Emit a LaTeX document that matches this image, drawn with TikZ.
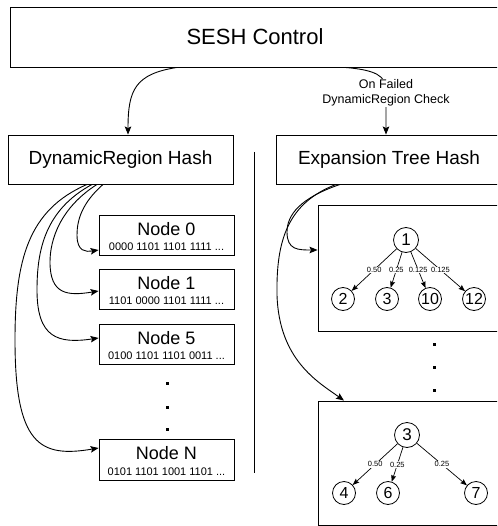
\documentclass[tikz,border=0pt]{standalone}
\usepackage{fontspec}
\setmainfont{Liberation Sans}
\usetikzlibrary{arrows.meta,calc}
\tikzset{
  box/.style={draw=black,line width=0.9pt,rectangle,inner sep=0pt},
  conn/.style={line width=0.9pt,-{Stealth[length=8pt,width=6.5pt,inset=1.5pt]}},
  tarrow/.style={line width=0.7pt,-{Stealth[length=6.5pt,width=5pt,inset=1pt]}},
  circ/.style={draw=black,line width=0.8pt,circle,minimum size=23pt,inner sep=0pt,font=\fontsize{16}{16}\selectfont},
  rootc/.style={circ,minimum size=25pt,font=\fontsize{17}{17}\selectfont},
  elab/.style={fill=white,inner sep=0.6pt,font=\fontsize{7.5}{7.5}\selectfont},
  ntitle/.style={inner sep=0pt,font=\fontsize{18}{18}\selectfont},
  nbits/.style={inner sep=0pt,font=\fontsize{11}{11}\selectfont},
  dotsq/.style={fill=black,rectangle,minimum size=3pt,inner sep=0pt}
}
\begin{document}
\begin{tikzpicture}[x=1pt,y=-1pt]
\useasboundingbox (0,0) rectangle (497,526);
\clip (0,0) rectangle (497,526);
% top box
\node[box,minimum width=490pt,minimum height=60pt,font=\fontsize{22}{22}\selectfont] (sesh) at (255,37) {SESH Control};
% hash boxes
\node[box,minimum width=225pt,minimum height=49pt,font=\fontsize{19}{19}\selectfont] (drh) at (120.5,159.5) {DynamicRegion Hash};
\node[box,minimum width=226pt,minimum height=49pt,font=\fontsize{19}{19}\selectfont] (eth) at (389,159.5) {Expansion Tree Hash};
% separator
\draw[line width=0.9pt] (254,152) -- (254,473);
% node boxes
\node[box,minimum width=135pt,minimum height=40pt] (n0) at (166.5,235) {};
\node[ntitle] (n0t) at (166.5,229) {Node 0};
\node[nbits] (n0b) at (166.5,247) {0000 1101 1101 1111 ...};
\node[box,minimum width=135pt,minimum height=40pt] (n1) at (166.5,289) {};
\node[ntitle] (n1t) at (166.5,283) {Node 1};
\node[nbits] (n1b) at (166.5,301) {1101 0000 1101 1111 ...};
\node[box,minimum width=135pt,minimum height=40pt] (n5) at (166.5,344) {};
\node[ntitle] (n5t) at (166.5,338) {Node 5};
\node[nbits] (n5b) at (166.5,356) {0100 1101 1101 0011 ...};
\node[box,minimum width=135pt,minimum height=41pt] (nN) at (166.5,459.5) {};
\node[ntitle] (nNt) at (166.5,453) {Node N};
\node[nbits] (nNb) at (166.5,471.5) {0101 1101 1001 1101 ...};
% left dots
\node[dotsq] (ld1) at (167,383) {};
\node[dotsq] (ld2) at (167,407) {};
\node[dotsq] (ld3) at (167,429) {};
% tree boxes
\node[box,minimum width=187pt,minimum height=126pt] (tb1) at (411.5,268) {};
\node[box,minimum width=187pt,minimum height=124pt] (tb2) at (411.5,463) {};
% right dots
\node[dotsq] (rd1) at (434,344) {};
\node[dotsq] (rd2) at (434,367) {};
\node[dotsq] (rd3) at (434,390) {};
% tree 1
\node[rootc] (t1) at (406,240) {1};
\node[circ] (t2) at (343,299) {2};
\node[circ] (t3) at (387,299) {3};
\node[circ] (t10) at (430,299) {10};
\node[circ] (t12) at (474,299) {12};
\draw[tarrow] (t1) -- node[elab] {0.50} (t2);
\draw[tarrow] (t1) -- node[elab] {0.25} (t3);
\draw[tarrow] (t1) -- node[elab] {0.125} (t10);
\draw[tarrow] (t1) -- node[elab] {0.125} (t12);
% tree 2
\node[rootc] (u3) at (407,435) {3};
\node[circ] (u4) at (344,493) {4};
\node[circ] (u6) at (388,493) {6};
\node[circ] (u7) at (476,493) {7};
\draw[tarrow] (u3) -- node[elab] {0.50} (u4);
\draw[tarrow] (u3) -- node[elab] {0.25} (u6);
\draw[tarrow] (u3) -- node[elab] {0.25} (u7);
% top connectors
\draw[conn] ([xshift=-78pt]sesh.south) .. controls (135,74) and (128,90) .. ([xshift=7.5pt]drh.north);
\draw[conn] ([xshift=90pt]sesh.south) .. controls (376,70) and (386,76) .. (386,90) -- ([xshift=-3pt]eth.north);
\node[fill=white,inner sep=1pt,align=center,font=\fontsize{12.5}{14.7}\selectfont] (lab) at (386,93) {On Failed\\DynamicRegion Check};
% DRH connectors
\draw[conn] ([xshift=-17.5pt]drh.south) .. controls (82,203) and (77,220) .. (77,235) .. controls (77,252) and (86,252) .. ([yshift=-15pt]n0.west);
\draw[conn] ([xshift=-23.5pt]drh.south) .. controls (60,208) and (50,240) .. (50,262) .. controls (50,295) and (68,296) .. ([yshift=-2pt]n1.west);
\draw[conn] ([xshift=-28.5pt]drh.south) .. controls (45,210) and (37,250) .. (37,290) .. controls (37,338) and (58,344) .. ([yshift=6pt]n5.west);
\draw[conn] ([xshift=-33.5pt]drh.south) .. controls (28,210) and (15,260) .. (15,340) .. controls (15,445) and (40,458) .. ([yshift=11.5pt]nN.west);
% ETH connectors
\draw[conn] ([xshift=-49pt]eth.south) .. controls (300,198) and (287,215) .. (287,232) .. controls (287,250) and (298,250) .. ([yshift=18pt]tb1.west);
\draw[conn] ([xshift=-53pt]eth.south) .. controls (288,203) and (276,240) .. (277,295) .. controls (279,360) and (318,382) .. ([xshift=-67.5pt]tb2.north);
\end{tikzpicture}
\end{document}
